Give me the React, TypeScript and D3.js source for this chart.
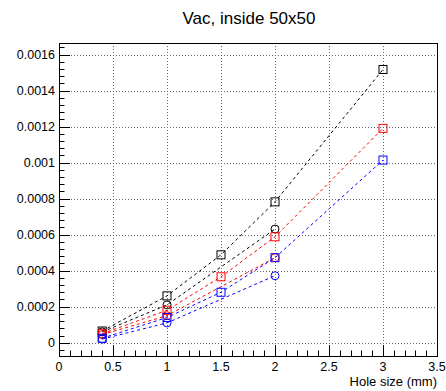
import React from "react";
import * as d3 from "d3";

// Hole sizes (mm) and measured values for each configuration
const holeSizes = [0.4, 1, 1.5, 2, 3];
const holeSizesShort = [0.4, 1, 2];

const blackSquares = [0.000065, 0.00026, 0.000488, 0.000782, 0.001517];
const redSquares = [0.00005, 0.00018, 0.000366, 0.000588, 0.00119];
const blueSquares = [0.000025, 0.00014, 0.00028, 0.000472, 0.001014];

const blackCircles = [0.00006, 0.00021, 0.000631];
const redCircles = [0.000045, 0.00015, 0.000472];
const blueCircles = [0.00002, 0.00011, 0.000372];

const xTicks = [0, 0.5, 1, 1.5, 2, 2.5, 3, 3.5];
const yTicks = [0, 0.0002, 0.0004, 0.0006, 0.0008, 0.001, 0.0012, 0.0014, 0.0016];

const W = 446;
const H = 391;
const left = 59;
const right = 437;
const top = 43;
const bottom = 356;

export default function App() {
  const x = d3.scaleLinear().domain([0, 3.5]).range([left, right]);
  const y = d3.scaleLinear().domain([-0.0000738, 0.001664]).range([bottom, top]);

  const line = d3
    .line<[number, number]>()
    .x((d) => x(d[0]))
    .y((d) => y(d[1]));

  const series = [
    { xs: holeSizes, ys: blackSquares, color: "#000000", marker: "square" },
    { xs: holeSizesShort, ys: blackCircles, color: "#000000", marker: "circle" },
    { xs: holeSizes, ys: redSquares, color: "#ff0000", marker: "square" },
    { xs: holeSizesShort, ys: redCircles, color: "#ff0000", marker: "circle" },
    { xs: holeSizes, ys: blueSquares, color: "#0000ff", marker: "square" },
    { xs: holeSizesShort, ys: blueCircles, color: "#0000ff", marker: "circle" },
  ];

  const xMinor = d3.range(0, 3.5001, 0.1).filter((v) => Math.abs(v * 2 - Math.round(v * 2)) > 1e-6);
  const yMinor = d3
    .range(-0.00004, 0.00166, 0.00004)
    .filter((v) => Math.abs(v / 0.0002 - Math.round(v / 0.0002)) > 1e-6);

  const font = "'Liberation Sans', Arial, Helvetica, sans-serif";
  const px = (v: number) => Math.round(v) + 0.5;

  return (
    <svg width={W} height={H} style={{ position: "absolute", left: 0, top: 0 }} fontFamily={font}>
      <rect x={0} y={0} width={W} height={H} fill="#fff" />
      <text x={249} y={24} textAnchor="middle" fontSize={17}>
        Vac, inside 50x50
      </text>

      {/* grid */}
      {xTicks.slice(1, -1).map((t) => (
        <line key={"gx" + t} x1={px(x(t))} x2={px(x(t))} y1={top} y2={bottom} stroke="#666" strokeDasharray="1 2" />
      ))}
      {yTicks.map((t) => (
        <line key={"gy" + t} x1={left} x2={right} y1={px(y(t))} y2={px(y(t))} stroke="#666" strokeDasharray="1 2" />
      ))}

      {/* ticks */}
      {xTicks.map((t) => (
        <line key={"xt" + t} x1={px(x(t))} x2={px(x(t))} y1={bottom} y2={bottom - 11} stroke="#000" />
      ))}
      {xMinor.map((t) => (
        <line key={"xm" + t} x1={px(x(t))} x2={px(x(t))} y1={bottom} y2={bottom - 5.5} stroke="#000" />
      ))}
      {yTicks.map((t) => (
        <line key={"yt" + t} x1={left} x2={left + 11} y1={px(y(t))} y2={px(y(t))} stroke="#000" />
      ))}
      {yMinor.map((t) => (
        <line key={"ym" + t} x1={left} x2={left + 5.5} y1={px(y(t))} y2={px(y(t))} stroke="#000" />
      ))}

      {/* data */}
      {series.map((s, i) => {
        const pts = s.xs.map((v, j) => [v, s.ys[j]] as [number, number]);
        return (
          <g key={"s" + i}>
            <path d={line(pts) || ""} fill="none" stroke={s.color} strokeWidth={1} strokeDasharray="3 3" />
            {pts.map((p, j) =>
              s.marker === "square" ? (
                <rect
                  key={j}
                  x={x(p[0]) - 4}
                  y={y(p[1]) - 4}
                  width={8}
                  height={8}
                  fill="none"
                  stroke={s.color}
                  strokeWidth={1}
                />
              ) : (
                <circle key={j} cx={x(p[0])} cy={y(p[1])} r={4} fill="none" stroke={s.color} strokeWidth={1} />
              )
            )}
          </g>
        );
      })}

      {/* frame */}
      <rect x={left + 0.5} y={top + 0.5} width={right - left} height={bottom - top} fill="none" stroke="#000" />

      {/* tick labels */}
      {xTicks.map((t) => (
        <text key={"xl" + t} x={x(t)} y={371} textAnchor="middle" fontSize={12.5}>
          {String(t)}
        </text>
      ))}
      {yTicks.map((t) => (
        <text key={"yl" + t} x={55} y={y(t) + 4.5} textAnchor="end" fontSize={12.5}>
          {t === 0 ? "0" : String(+t.toFixed(4))}
        </text>
      ))}
      <text x={437} y={386} textAnchor="end" fontSize={13}>
        Hole size (mm)
      </text>
    </svg>
  );
}
